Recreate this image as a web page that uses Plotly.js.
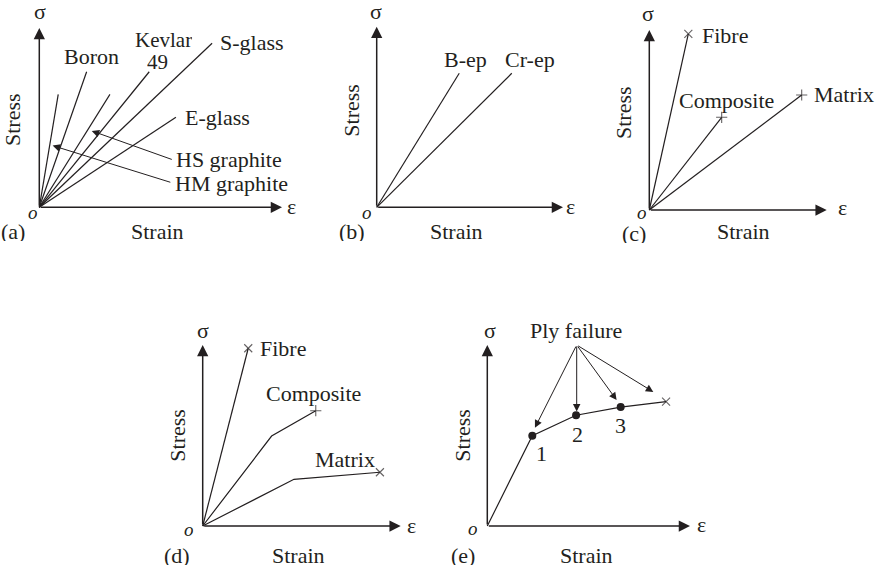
<!DOCTYPE html>
<html>
<head>
<meta charset="utf-8">
<script src="https://cdn.plot.ly/plotly-3.0.1.min.js"></script>
<style>html,body{margin:0;padding:0;background:#fff;}#chart{width:877px;height:568px;}</style>
</head>
<body>
<div id="chart"></div>
<script>
// ---------- DATA (schematic units: strain 0-10, stress 0-10) ----------
// (a) fibre stress-strain lines
const aNames = ['HM graphite', 'Boron', 'HS graphite', 'Kevlar 49', 'S-glass', 'E-glass'];
const aStrainEnd = [0.78, 1.95, 2.91, 4.53, 7.12, 5.63];
const aStressEnd = [6.30, 7.56, 6.30, 7.56, 9.15, 5.02];
// (b) composites
const bNames = ['B-ep', 'Cr-ep'];
const bStrainEnd = [4.43, 7.25];
const bStressEnd = [7.42, 7.42];
// (c) fibre / composite / matrix (linear)
const cNames = ['Fibre', 'Composite', 'Matrix'];
const cStrainEnd = [2.20, 4.08, 8.59];
const cStressEnd = [9.78, 5.15, 6.39];
// (d) fibre / composite / matrix (bilinear)
const dFibreStrain = [0, 2.30];
const dFibreStress = [0, 9.82];
const dCompStrain = [0, 3.48, 5.71];
const dCompStress = [0, 4.97, 6.37];
const dMatStrain = [0, 4.61, 8.95];
const dMatStress = [0, 2.58, 2.97];
// (e) laminate with successive ply failures
const eStrain = [0, 2.22, 4.38, 6.58, 8.82];
const eStress = [0, 4.99, 6.12, 6.57, 6.87];
const ePlyLabels = ['1', '2', '3'];
const eArrowStrain = [2.35, 4.41, 6.38, 8.19];
const eArrowStress = [5.43, 6.33, 6.96, 7.41];

// ---------- LAYOUT HELPERS ----------
const W = 877, H = 568;
const INK = '#231f20';
const FONT = 'Liberation Serif, Times New Roman, serif';
const FS = 22;
const PAD = 0.3;
const RANGE = [-PAD, 10 + PAD];
// pixel geometry of each panel: origin (ox,oy), x-arrow end ex, y-arrow top ty
const geo = [
  {ox: 39.3, oy: 207.3, ex: 282, ty: 28},
  {ox: 376.7, oy: 207.3, ex: 563, ty: 26.7},
  {ox: 649.3, oy: 210, ex: 826.7, ty: 30},
  {ox: 202.7, oy: 526, ex: 400.7, ty: 345},
  {ox: 487.3, oy: 526, ex: 690, ty: 345}
];
const layout = {
  width: W, height: H,
  margin: {l: 0, r: 0, t: 0, b: 0},
  paper_bgcolor: '#fff', plot_bgcolor: 'rgba(0,0,0,0)',
  showlegend: false,
  annotations: [],
  font: {family: FONT, size: FS, color: INK}
};
geo.forEach((g, i) => {
  const n = i === 0 ? '' : String(i + 1);
  const ppx = (g.ex - g.ox) / 10, ppy = (g.oy - g.ty) / 10;
  layout['xaxis' + n] = {domain: [(g.ox - PAD * ppx) / W, (g.ex + PAD * ppx) / W], range: RANGE,
    visible: false, fixedrange: true, anchor: 'y' + n};
  layout['yaxis' + n] = {domain: [1 - (g.oy + PAD * ppy) / H, 1 - (g.ty - PAD * ppy) / H], range: RANGE,
    visible: false, fixedrange: true, anchor: 'x' + n};
});
function ax(i) { return i === 0 ? '' : String(i + 1); }
const A = layout.annotations;
function arrow(i, x, y, tx, ty, w, size) {
  const n = ax(i);
  A.push({xref: 'x' + n, yref: 'y' + n, axref: 'x' + n, ayref: 'y' + n, x: x, y: y, ax: tx, ay: ty,
    text: '', showarrow: true, arrowhead: 2, arrowsize: size, arrowwidth: w, arrowcolor: INK, standoff: 0, startstandoff: 0});
}
function label(i, x, y, text, xanchor, extra) {
  const n = ax(i);
  A.push(Object.assign({xref: 'x' + n, yref: 'y' + n, x: x, y: y, text: text, showarrow: false,
    xanchor: xanchor || 'center', yanchor: 'middle', font: {family: FONT, size: FS, color: INK}}, extra || {}));
}
function ptext(px, py, text, extra) {
  A.push(Object.assign({xref: 'paper', yref: 'paper', x: px / W, y: 1 - py / H, text: text, showarrow: false,
    xanchor: 'center', yanchor: 'middle', font: {family: FONT, size: FS, color: INK}}, extra || {}));
}

// axes with arrows + axis labels
const sigmaPos = [[40, 12], [376, 12], [648, 13], [202.7, 331], [490, 330]];
const epsPos = [[291, 206], [570, 206], [842, 208], [411, 525], [701, 524]];
const oPos = [[33.3, 212], [367.3, 212], [641.7, 211.5], [189.3, 529], [473.3, 528]];
const tagPos = [[13, 231], [351.7, 231], [634, 232.5], [176.7, 555], [462.7, 555]];
const strainPos = [[157, 231], [456.7, 231], [743, 231], [298.3, 555], [586.7, 555]];
const stressPos = [[13, 120], [351.7, 110], [623, 113], [176.7, 435], [461.7, 435]];
const tags = ['(a)', '(b)', '(c)', '(d)', '(e)'];
geo.forEach((g, i) => {
  arrow(i, 10, 0, 0, 0, 1.5, 1.5);
  arrow(i, 0, 10, 0, 0, 1.5, 1.5);
  ptext(sigmaPos[i][0], sigmaPos[i][1], 'σ');
  ptext(epsPos[i][0], epsPos[i][1], 'ε');
  ptext(oPos[i][0], oPos[i][1], '<i>o</i>', {height: 14, font: {family: FONT, size: 19, color: INK}});
  ptext(tagPos[i][0], tagPos[i][1], tags[i], {height: 20});
  ptext(strainPos[i][0], strainPos[i][1], 'Strain', {height: 20});
  ptext(stressPos[i][0], stressPos[i][1], 'Stress', {textangle: -90});
});

// ---------- TRACES ----------
const traces = [];
const lineStyle = {color: INK, width: 1.2};
function line(i, xs, ys, endSymbol) {
  const n = ax(i);
  const t = {type: 'scatter', x: xs, y: ys, xaxis: 'x' + n, yaxis: 'y' + n, hoverinfo: 'skip',
    mode: 'lines', line: lineStyle, cliponaxis: false};
  if (endSymbol) {
    t.mode = 'lines+markers';
    t.marker = {symbol: xs.map((v, k) => k === xs.length - 1 ? endSymbol : 'circle'),
      size: xs.map((v, k) => k === xs.length - 1 ? 8 : 0),
      color: INK, line: {color: INK, width: 1.1}};
  }
  traces.push(t);
}
// (a)
aNames.forEach((nm, k) => line(0, [0, aStrainEnd[k]], [0, aStressEnd[k]]));
// (b)
bNames.forEach((nm, k) => line(1, [0, bStrainEnd[k]], [0, bStressEnd[k]]));
// (c)
const cSym = ['x-thin', 'cross-thin', 'cross-thin'];
cNames.forEach((nm, k) => line(2, [0, cStrainEnd[k]], [0, cStressEnd[k]], cSym[k]));
// (d)
line(3, dFibreStrain, dFibreStress, 'x-thin');
line(3, dCompStrain, dCompStress, 'cross-thin');
line(3, dMatStrain, dMatStress, 'x-thin');
// (e)
line(4, eStrain, eStress, 'x-thin');
traces.push({type: 'scatter', mode: 'markers', xaxis: 'x5', yaxis: 'y5', hoverinfo: 'skip',
  x: eStrain.slice(1, 4), y: eStress.slice(1, 4), marker: {symbol: 'circle', size: 8, color: INK}});

// ---------- LABELS ----------
// (a)
label(0, 2.16, 8.40, 'Boron');
label(0, 5.10, 9.33, 'Kevlar', 'center', {height: 18, font: {family: FONT, size: 21, color: INK}});
label(0, 4.89, 8.10, '49', 'center', {height: 18, font: {family: FONT, size: 21, color: INK}});
label(0, 7.38, 9.18, 'S-glass', 'left');
label(0, 5.91, 5.02, 'E-glass', 'left');
label(0, 5.55, 2.64, 'HS graphite', 'left');
label(0, 5.50, 1.34, 'HM graphite', 'left');
arrow(0, 2.16, 4.26, 5.52, 2.64, 1, 1.5);
arrow(0, 0.55, 3.44, 5.46, 1.37, 1, 1.5);
// (b)
label(1, 4.74, 8.16, bNames[0]);
label(1, 8.23, 8.16, bNames[1]);
// (c)
label(2, 2.86, 9.72, cNames[0], 'left');
label(2, 4.36, 6.11, cNames[1]);
label(2, 9.15, 6.39, cNames[2], 'left');
// (d)
label(3, 2.81, 9.82, 'Fibre', 'left');
label(3, 5.59, 7.33, 'Composite');
label(3, 7.19, 3.65, 'Matrix');
// (e)
ptext(576, 330, 'Ply failure');
eArrowStrain.forEach((x, k) => arrow(4, x, eArrowStress[k], 4.41, 10.0, 1, 1.5));
const ePlyPos = [[2.68, 4.02], [4.44, 5.08], [6.55, 5.54]];
ePlyLabels.forEach((t, k) => label(4, ePlyPos[k][0], ePlyPos[k][1], t));

Plotly.newPlot('chart', traces, layout, {staticPlot: true, displayModeBar: false});
</script>
</body>
</html>
